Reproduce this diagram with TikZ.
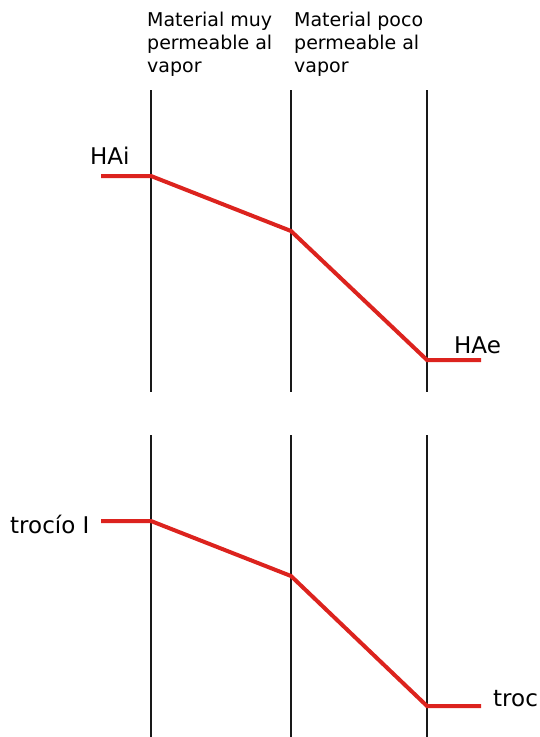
\documentclass[tikz,border=0pt]{standalone}
\usepackage{fontspec}
\setmainfont{DejaVu Sans}
\usepackage{xcolor}
\definecolor{perfil}{RGB}{220,35,30}
\tikzset{
    pared/.style={line width=2.7pt, draw=black!90},
    curva/.style={line width=4pt, draw=perfil},
    rotulo/.style={font=\fontsize{19}{23}\selectfont, align=left, anchor=north west, inner sep=0pt},
    valor/.style={font=\fontsize{23}{28}\selectfont, anchor=base west, inner sep=0pt}
}

\begin{document}
\begin{tikzpicture}[x=1pt,y=-1pt]
        \useasboundingbox (0,0) rectangle (539,737);

        % paredes de las dos capas
        \foreach \x in {151,291,427} {
            \draw[pared] (\x,90) -- (\x,392);
            \draw[pared] (\x,435) -- (\x,737);
        }

        \node[rotulo] (capa1) at (147,11.5) {Material muy\\permeable al\\vapor};
        \node[rotulo] (capa2) at (294,11.5) {Material poco\\permeable al\\vapor};

        % humedad absoluta
        \coordinate (hi0) at (101,176);
        \coordinate (hi1) at (151,176);
        \coordinate (hm) at (291,231);
        \coordinate (he1) at (427,360);
        \coordinate (he0) at (481,360);
        \draw[curva] (hi0) -- (hi1) -- (hm) -- (he1) -- (he0);
        \node[valor] (hai) at (90,164) {HAi};
        \node[valor] (hae) at (454,353) {HAe};

        \begin{scope}[yshift=-345pt]
            % temperatura de rocio
            \coordinate (ti0) at (101,176);
            \coordinate (ti1) at (151,176);
            \coordinate (tm) at (291,231);
            \coordinate (te1) at (427,361);
            \coordinate (te0) at (481,361);
            \draw[curva] (ti0) -- (ti1) -- (tm) -- (te1) -- (te0);
            \node[valor] (troci) at (10,188) {trocío I};
            \node[valor] (troce) at (493,361) {troc};
        \end{scope}
    \end{tikzpicture}
\end{document}
